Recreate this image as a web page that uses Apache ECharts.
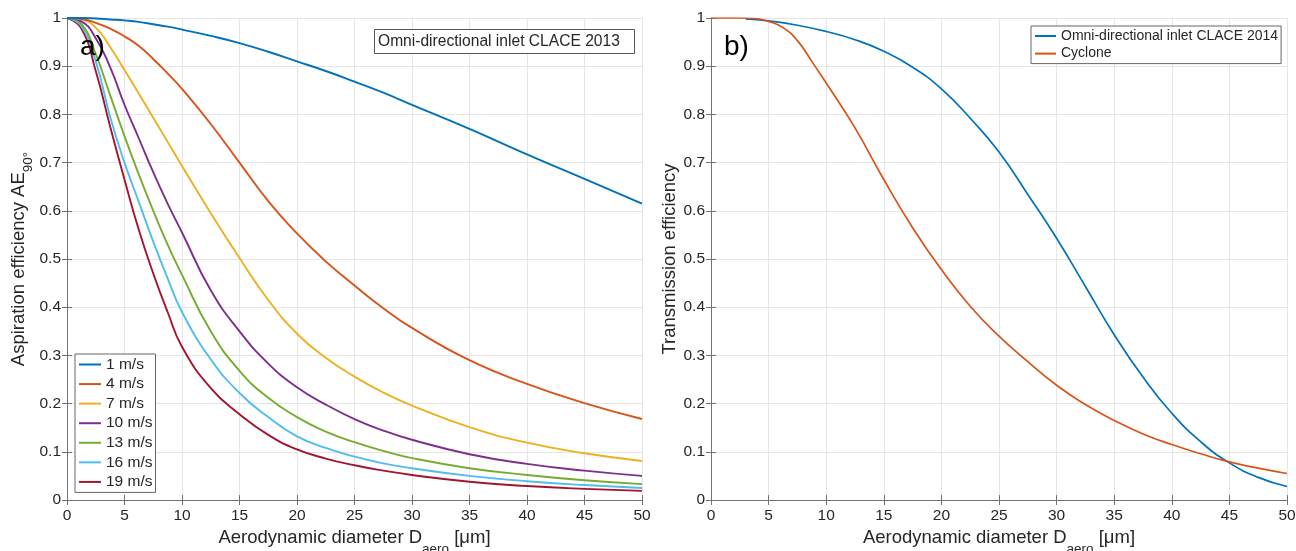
<!DOCTYPE html>
<html>
<head>
<meta charset="utf-8">
<script src="https://cdn.jsdelivr.net/npm/echarts@6/dist/echarts.min.js"></script>
<style>
  html, body { margin: 0; padding: 0; background: #ffffff; }
  #chart { width: 1296px; height: 551px; }
</style>
</head>
<body>
<div id="chart"></div>
<script>
// ---- Panel a): aspiration efficiency at 90° for several wind speeds ----
const diamA = [0, 1.25, 2.5, 3.75, 5, 6.25, 7.5, 8.75, 10, 12.5, 15, 17.5, 20, 22.5, 25, 27.5, 30, 35, 40, 45, 50];
const ws1  = [1, 1, 0.999, 0.997, 0.995, 0.992, 0.987, 0.982, 0.976, 0.963, 0.948, 0.93, 0.91, 0.89, 0.868, 0.845, 0.82, 0.77, 0.717, 0.666, 0.615];
const ws4  = [1, 0.998, 0.99, 0.978, 0.962, 0.942, 0.915, 0.885, 0.853, 0.78, 0.7, 0.62, 0.553, 0.495, 0.445, 0.398, 0.357, 0.29, 0.241, 0.201, 0.168];
const ws7  = [1, 0.997, 0.98, 0.94, 0.892, 0.843, 0.793, 0.743, 0.693, 0.595, 0.502, 0.415, 0.345, 0.295, 0.256, 0.223, 0.196, 0.151, 0.119, 0.097, 0.081];
const ws10 = [1, 0.993, 0.958, 0.898, 0.82, 0.75, 0.68, 0.615, 0.555, 0.435, 0.35, 0.283, 0.234, 0.198, 0.168, 0.144, 0.125, 0.095, 0.075, 0.061, 0.05];
const ws13 = [1, 0.988, 0.925, 0.84, 0.755, 0.675, 0.6, 0.53, 0.467, 0.35, 0.268, 0.212, 0.172, 0.142, 0.12, 0.102, 0.087, 0.066, 0.052, 0.041, 0.033];
const ws16 = [1, 0.983, 0.91, 0.795, 0.7, 0.618, 0.536, 0.46, 0.39, 0.292, 0.222, 0.172, 0.132, 0.108, 0.09, 0.076, 0.066, 0.05, 0.039, 0.031, 0.025];
const ws19 = [1, 0.978, 0.89, 0.775, 0.665, 0.56, 0.47, 0.39, 0.318, 0.232, 0.178, 0.135, 0.105, 0.086, 0.072, 0.061, 0.052, 0.038, 0.029, 0.023, 0.019];
const speedNames = ['1 m/s', '4 m/s', '7 m/s', '10 m/s', '13 m/s', '16 m/s', '19 m/s'];
const speedSeries = [ws1, ws4, ws7, ws10, ws13, ws16, ws19];

// ---- Panel b): transmission efficiency ----
const diamOmni = [3, 5, 7.5, 10, 12.5, 15, 17.5, 20, 22.5, 25, 27.5, 30, 32.5, 35, 37.5, 40, 42.5, 45, 47.5, 50];
const omni2014 = [0.998, 0.994, 0.985, 0.972, 0.955, 0.931, 0.898, 0.853, 0.792, 0.722, 0.634, 0.543, 0.443, 0.343, 0.255, 0.18, 0.121, 0.077, 0.047, 0.028];
const diamCyc = [0, 1.25, 2.5, 3.75, 5, 6.25, 7.5, 8.75, 10, 12.5, 15, 17.5, 20, 22.5, 25, 27.5, 30, 32.5, 35, 37.5, 40, 42.5, 45, 47.5, 50];
const cyclone = [1, 1, 1, 0.999, 0.993, 0.98, 0.953, 0.91, 0.865, 0.772, 0.665, 0.565, 0.478, 0.402, 0.34, 0.287, 0.238, 0.198, 0.165, 0.137, 0.115, 0.096, 0.079, 0.066, 0.055];
const panelBNames = ['Omni-directional inlet CLACE 2014', 'Cyclone'];
const boxLabelA = 'Omni-directional inlet CLACE 2013';

const palette = ['#0072BD', '#D95319', '#EDB120', '#7E2F8E', '#77AC30', '#4DBEEE', '#A2142F'];
const FONT = '"Liberation Sans", Arial, Helvetica, sans-serif';
const TXT = '#262626';
const AX = '#737373';
const GRIDC = '#e6e6e6';

const zip = (xs, ys) => xs.map((x, i) => [x, ys[i]]);

function xAxes(gridIndex) {
  return [
    {
      type: 'value', gridIndex, position: 'bottom', min: 0, max: 50, interval: 5,
      axisLine: { show: true, lineStyle: { color: AX, width: 1 } },
      axisTick: { show: true, inside: true, length: 5, lineStyle: { color: AX } },
      axisLabel: { color: TXT, fontSize: 15.5, fontFamily: FONT, margin: 8 },
      splitLine: { show: true, lineStyle: { color: GRIDC, width: 1 } },
      name: '{m|Aerodynamic diameter D}{s|aero}{m| [μm]}',
      nameLocation: 'middle', nameGap: 17,
      nameTextStyle: {
        fontFamily: FONT, color: TXT,
        rich: {
          m: { fontSize: 18.5, fontFamily: FONT, color: TXT },
          s: { fontSize: 13.5, fontFamily: FONT, color: TXT, padding: [22, 0, 0, 0] }
        }
      }
    },
    {
      type: 'value', gridIndex, position: 'top', min: 0, max: 50, interval: 5,
      axisLine: { show: true, lineStyle: { color: AX, width: 1 } },
      axisTick: { show: true, inside: true, length: 5, lineStyle: { color: AX } },
      axisLabel: { show: false },
      splitLine: { show: false }
    }
  ];
}

function yAxes(gridIndex, name, rich, gap) {
  return [
    {
      type: 'value', gridIndex, position: 'left', min: 0, max: 1, interval: 0.1,
      axisLine: { show: true, lineStyle: { color: AX, width: 1 } },
      axisTick: { show: true, inside: true, length: 5, lineStyle: { color: AX } },
      axisLabel: { color: TXT, fontSize: 15.5, fontFamily: FONT, margin: 6 },
      splitLine: { show: true, lineStyle: { color: GRIDC, width: 1 } },
      name, nameLocation: 'middle', nameGap: gap,
      nameTextStyle: Object.assign({ fontFamily: FONT, color: TXT, fontSize: 18.5 }, rich ? { rich } : {})
    },
    {
      type: 'value', gridIndex, position: 'right', min: 0, max: 1, interval: 0.1,
      axisLine: { show: true, lineStyle: { color: AX, width: 1 } },
      axisTick: { show: true, inside: true, length: 5, lineStyle: { color: AX } },
      axisLabel: { show: false },
      splitLine: { show: false }
    }
  ];
}

const series = [];
speedSeries.forEach((vals, i) => {
  series.push({
    name: speedNames[i], type: 'line', xAxisIndex: 0, yAxisIndex: 0,
    data: zip(diamA, vals), showSymbol: false, smooth: 0.5,
    color: palette[i], lineStyle: { width: 1.9, color: palette[i] }, z: 10 - i
  });
});
series.push({
  name: panelBNames[0], type: 'line', xAxisIndex: 2, yAxisIndex: 2,
  data: zip(diamOmni, omni2014), showSymbol: false, smooth: 0.5,
  color: palette[0], lineStyle: { width: 1.7, color: palette[0] }
});
series.push({
  name: panelBNames[1], type: 'line', xAxisIndex: 2, yAxisIndex: 2,
  data: zip(diamCyc, cyclone), showSymbol: false, smooth: 0.5,
  color: palette[1], lineStyle: { width: 1.7, color: palette[1] }
});

const option = {
  animation: false,
  backgroundColor: '#ffffff',
  grid: [
    { left: 67, top: 18, width: 575, height: 482, containLabel: false, outerBoundsMode: 'none' },
    { left: 711, top: 18, width: 576, height: 482, containLabel: false, outerBoundsMode: 'none' }
  ],
  xAxis: [...xAxes(0), ...xAxes(1)],
  yAxis: [
    ...yAxes(0, '{m|Aspiration efficiency AE}{s|90°}', {
      m: { fontSize: 18.5, fontFamily: FONT, color: TXT },
      s: { fontSize: 13.5, fontFamily: FONT, color: TXT, padding: [20, 0, 0, 0] }
    }, 20),
    ...yAxes(1, 'Transmission efficiency', null, 23)
  ],
  title: {
    text: boxLabelA, left: 374, top: 29,
    borderColor: '#555555', borderWidth: 1, padding: [4, 15, 4, 4],
    backgroundColor: '#ffffff',
    textStyle: { fontSize: 15.6, fontWeight: 'normal', color: TXT, fontFamily: FONT, lineHeight: 17 }
  },
  legend: [
    {
      data: speedNames, orient: 'vertical', left: 75, top: 354,
      icon: 'rect', itemWidth: 22, itemHeight: 2, itemGap: 2.57,
      padding: [2, 3, 2, 4], borderColor: '#666666', borderWidth: 1, backgroundColor: '#ffffff',
      textStyle: { fontSize: 15.5, color: TXT, fontFamily: FONT, lineHeight: 17 },
      selectedMode: false
    },
    {
      data: panelBNames, orient: 'vertical', left: 1031, top: 26,
      icon: 'rect', itemWidth: 21, itemHeight: 2, itemGap: 1.6,
      padding: [2, 3, 2, 4], borderColor: '#666666', borderWidth: 1, backgroundColor: '#ffffff',
      textStyle: { fontSize: 14, color: TXT, fontFamily: FONT, lineHeight: 16 },
      selectedMode: false
    }
  ],
  graphic: [
    { type: 'text', left: 80, top: 33, z: 100, style: { text: 'a)', fontSize: 28, fontFamily: FONT, fill: '#000000' } },
    { type: 'text', left: 724, top: 33, z: 100, style: { text: 'b)', fontSize: 28, fontFamily: FONT, fill: '#000000' } }
  ],
  series
};

const chart = echarts.init(document.getElementById('chart'), null, { renderer: 'canvas' });
chart.setOption(option);
</script>
</body>
</html>
